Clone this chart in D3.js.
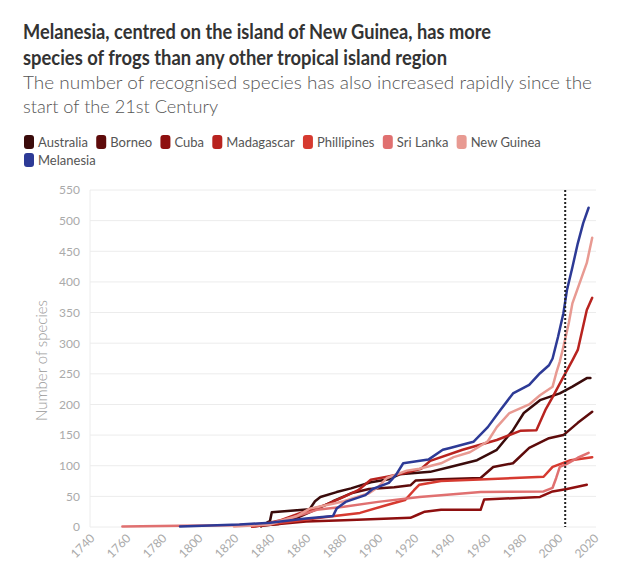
<!DOCTYPE html>
<html>
<head>
<meta charset="utf-8">
<script src="https://cdn.jsdelivr.net/npm/d3@7"></script>
<style>
  html, body { margin: 0; padding: 0; background: #fff; }
  svg { display: block; font-family: Lato, "Open Sans", sans-serif; }
</style>
</head>
<body>
<svg id="chart" width="631" height="572"></svg>
<script>
// ---- Data ----
const seriesNames = ["Australia", "Borneo", "Cuba", "Madagascar", "Phillipines", "Sri Lanka", "New Guinea", "Melanesia"];
const seriesColors = ["#3a0b0b", "#5e0b0b", "#8e0f0f", "#b8231f", "#d63a30", "#e07070", "#e89a92", "#2d3a96"];

const australia = [[1835,1],[1840,10],[1841,24],[1862,29],[1865,42],[1868,49],[1877,57],[1885,63],[1896,73],[1906,78],[1912,86],[1929,90],[1940,98],[1955,109],[1966,126],[1975,158],[1981,186],[1990,207],[2001,218],[2008,229],[2016,243],[2018,243]];
const borneo = [[1830,1],[1845,5],[1855,15],[1865,28],[1875,42],[1885,55],[1895,62],[1909,65],[1918,68],[1921,76],[1935,78],[1957,80],[1964,98],[1975,104],[1984,129],[1995,145],[2003,150],[2011,170],[2019,188]];
const cuba = [[1830,1],[1845,5],[1860,9],[1881,11],[1918,15],[1922,20],[1926,25],[1935,28],[1957,28],[1959,45],[1990,49],[1997,58],[2005,62],[2016,69]];
const madagascar = [[1830,1],[1846,11],[1857,23],[1870,35],[1881,49],[1889,60],[1896,77],[1905,82],[1915,88],[1924,95],[1929,108],[1947,126],[1966,142],[1979,157],[1988,158],[1993,191],[1997,212],[2003,245],[2008,272],[2011,289],[2016,354],[2019,374]];
const phillipines = [[1830,1],[1850,8],[1870,16],[1890,23],[1905,36],[1915,44],[1920,60],[1923,69],[1935,75],[1960,78],[1992,82],[1997,98],[2007,109],[2019,114]];
const sriLanka = [[1758,1],[1790,2],[1820,3],[1840,6],[1853,16],[1866,28],[1881,33],[1900,41],[1923,49],[1935,52],[1957,57],[1992,58],[1997,64],[1999,80],[2001,98],[2005,103],[2011,113],[2017,121]];
const newGuinea = [[1820,1],[1840,4],[1855,18],[1862,30],[1875,38],[1881,42],[1895,55],[1900,65],[1905,80],[1916,92],[1923,95],[1935,104],[1942,114],[1951,122],[1955,129],[1961,140],[1966,163],[1973,186],[1984,200],[1990,215],[1997,229],[1999,251],[2001,270],[2003,294],[2006,333],[2008,365],[2012,398],[2016,431],[2019,472]];
const melanesia = [[1790,1],[1823,4],[1840,7],[1860,14],[1875,18],[1877,30],[1882,41],[1893,52],[1897,62],[1906,72],[1910,85],[1914,104],[1928,110],[1936,126],[1940,129],[1953,139],[1961,163],[1968,191],[1975,218],[1984,232],[1990,251],[1995,264],[1997,275],[2000,310],[2003,349],[2005,387],[2008,424],[2011,463],[2014,496],[2017,521]];

const seriesData = [australia, borneo, cuba, madagascar, phillipines, sriLanka, newGuinea, melanesia];

const xTicks = [1740,1760,1780,1800,1820,1840,1860,1880,1900,1920,1940,1960,1980,2000,2020];
const yTicks = [0,50,100,150,200,250,300,350,400,450,500,550];
const markerYear = 2004;

const titleLines = ["Melanesia, centred on the island of New Guinea, has more", "species of frogs than any other tropical island region"];
const subtitleLines = ["The number of recognised species has also increased rapidly since the", "start of the 21st Century"];
const yAxisTitle = "Number of species";

// ---- Drawing ----
const svg = d3.select("#chart");
const x = d3.scaleLinear().domain([1740, 2020]).range([90, 594]);
const y = d3.scaleLinear().domain([0, 550]).range([527, 190]);

// Title (glyphs condensed to match the narrower original face)
const titleWidths = [468, 424];
svg.append("g").selectAll("text").data(titleLines).join("text")
  .attr("x", 23).attr("y", (d, i) => 39 + i * 26)
  .attr("font-size", 20.5).attr("font-weight", 700).attr("fill", "#333")
  .attr("textLength", (d, i) => titleWidths[i]).attr("lengthAdjust", "spacingAndGlyphs")
  .text(d => d);
const subWidths = [569, 195];
svg.append("g").selectAll("text").data(subtitleLines).join("text")
  .attr("x", 23).attr("y", (d, i) => 89 + i * 24)
  .attr("font-size", 18.5).attr("font-weight", 300).attr("fill", "#555")
  .attr("textLength", (d, i) => subWidths[i]).attr("lengthAdjust", "spacingAndGlyphs")
  .text(d => d);

// Legend (flow layout)
const legend = svg.append("g");
let lx = 24, ly = 142;
seriesNames.forEach((name, i) => {
  const g = legend.append("g");
  const t = g.append("text").attr("font-size", 13).attr("fill", "#555").text(name);
  const w = t.node().getComputedTextLength();
  if (lx + 14 + w > 600) { lx = 24; ly += 18; }
  g.append("rect").attr("x", lx).attr("y", ly - 7).attr("width", 10).attr("height", 14)
    .attr("rx", 3).attr("fill", seriesColors[i]);
  t.attr("x", lx + 14).attr("y", ly + 4.5);
  lx += 14 + w + 8.3;
});

// Gridlines
svg.append("g").selectAll("line").data(yTicks).join("line")
  .attr("x1", 90).attr("x2", 596)
  .attr("y1", d => y(d)).attr("y2", d => y(d))
  .attr("stroke", "#ececec").attr("stroke-width", 1);
svg.append("line").attr("x1", 90).attr("x2", 90).attr("y1", y(550)).attr("y2", y(0))
  .attr("stroke", "#ececec");

// Y axis
const yAxis = svg.append("g").attr("transform", "translate(80,0)")
  .call(d3.axisLeft(y).tickValues(yTicks).tickSize(0).tickPadding(0));
yAxis.select(".domain").remove();
yAxis.selectAll("text").attr("font-size", 12).attr("fill", "#aaa").attr("font-family", "Lato, sans-serif");

svg.append("text")
  .attr("transform", `translate(47,${(y(0) + y(550)) / 2 + 2}) rotate(-90)`)
  .attr("text-anchor", "middle").attr("font-size", 15).attr("font-weight", 300).attr("fill", "#999")
  .text(yAxisTitle);

// X axis
const xAxis = svg.append("g").attr("transform", `translate(0,${y(0)})`)
  .call(d3.axisBottom(x).tickValues(xTicks).tickFormat(d3.format("d")).tickSize(0).tickPadding(0));
xAxis.select(".domain").remove();
xAxis.selectAll("text")
  .attr("font-size", 12).attr("fill", "#aaa").attr("font-family", "Lato, sans-serif")
  .attr("text-anchor", "end").attr("dy", null).attr("y", 0)
  .attr("transform", "translate(5,12) rotate(-45)");

// Lines
const line = d3.line().x(d => x(d[0])).y(d => y(d[1])).curve(d3.curveLinear);
svg.append("g").selectAll("path").data(seriesData).join("path")
  .attr("d", d => line(d))
  .attr("fill", "none")
  .attr("stroke", (d, i) => seriesColors[i])
  .attr("stroke-width", 2.5)
  .attr("stroke-linejoin", "round").attr("stroke-linecap", "round");

// Marker line
svg.append("line")
  .attr("x1", x(markerYear)).attr("x2", x(markerYear))
  .attr("y1", y(550)).attr("y2", y(0))
  .attr("stroke", "#222").attr("stroke-width", 2).attr("stroke-dasharray", "2,2");
</script>
</body>
</html>
